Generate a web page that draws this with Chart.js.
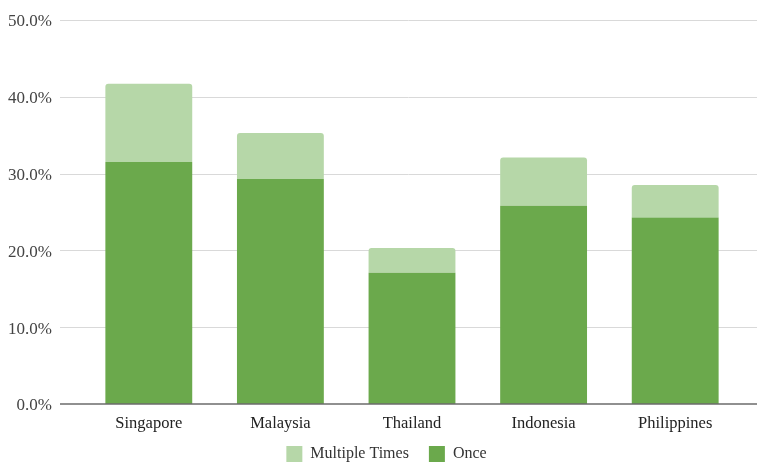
<!DOCTYPE html>
<html>
<head>
<meta charset="utf-8">
<script src="https://cdn.jsdelivr.net/npm/chart.js@4"></script>
<style>
  html, body { margin: 0; padding: 0; background: #ffffff; }
  #wrap { width: 757px; height: 462px; position: relative; }
</style>
</head>
<body>
<div id="wrap"><canvas id="c" width="757" height="462"></canvas></div>
<script>
const categories = ["Singapore", "Malaysia", "Thailand", "Indonesia", "Philippines"];
const onceValues = [31.5, 29.3, 17.1, 25.8, 24.3];
const multipleValues = [10.2, 6.0, 3.2, 6.3, 4.2];
const yTickValues = [0, 10, 20, 30, 40, 50];

const FONT = "'Liberation Serif', 'Times New Roman', serif";

const extendGrid = {
  id: 'extendGrid',
  beforeDatasetsDraw(chart) {
    const ys = chart.scales.y;
    const ctx = chart.ctx;
    const left = chart.chartArea.left - 23;
    const right = chart.width;
    ctx.save();
    ys.ticks.forEach(t => {
      if (t.value === 0) return;
      const y = Math.round(ys.getPixelForValue(t.value)) + 0.5;
      ctx.beginPath();
      ctx.strokeStyle = '#d9d9d9';
      ctx.lineWidth = 1;
      ctx.moveTo(left, y);
      ctx.lineTo(right, y);
      ctx.stroke();
    });
    ctx.restore();
  },
  afterDatasetsDraw(chart) {
    const ys = chart.scales.y;
    const ctx = chart.ctx;
    const left = chart.chartArea.left - 23;
    const y = ys.getPixelForValue(0);
    ctx.save();
    ctx.beginPath();
    ctx.strokeStyle = '#6b6b6b';
    ctx.lineWidth = 1.6;
    ctx.moveTo(left, y);
    ctx.lineTo(chart.width, y);
    ctx.stroke();
    ctx.restore();
  }
};

const legendFit = {
  id: 'legendFit',
  beforeInit(chart) {
    const lg = chart.legend;
    if (!lg) return;
    const origFit = lg.fit;
    lg.fit = function () {
      origFit.call(this);
      this.height = 28;
    };
    const origDraw = lg.draw;
    lg.draw = function () {
      this.top -= 8;
      this.left += 16;
      this.right += 16;
      origDraw.call(this);
      this.top += 8;
      this.left -= 16;
      this.right -= 16;
    };
  }
};

new Chart(document.getElementById('c'), {
  type: 'bar',
  data: {
    labels: categories,
    datasets: [
      {
        label: 'Once',
        data: onceValues,
        backgroundColor: '#6ba94c',
        borderWidth: 0,
        barPercentage: 0.66,
        categoryPercentage: 1.0
      },
      {
        label: 'Multiple Times',
        data: multipleValues,
        backgroundColor: '#b6d7a8',
        borderWidth: 0,
        borderRadius: 3,
        borderSkipped: 'bottom',
        barPercentage: 0.66,
        categoryPercentage: 1.0
      }
    ]
  },
  options: {
    responsive: false,
    animation: false,
    devicePixelRatio: 1,
    layout: { padding: { top: 20, right: 16, left: 0, bottom: 0 } },
    plugins: {
      legend: {
        position: 'bottom',
        reverse: true,
        labels: {
          boxWidth: 16,
          boxHeight: 16,
          padding: 20,
          color: '#333333',
          font: { family: FONT, size: 16 }
        }
      },
      tooltip: { enabled: false }
    },
    scales: {
      x: {
        stacked: true,
        grid: { display: false },
        border: { display: false },
        ticks: {
          color: '#222222',
          padding: 2,
          maxRotation: 0,
          font: { family: FONT, size: 16.5 }
        },
        afterFit(scale) { scale.height = 30; }
      },
      y: {
        stacked: true,
        min: 0,
        max: 50,
        afterBuildTicks(scale) { scale.ticks = yTickValues.map(v => ({ value: v })); },
        grid: { display: false, drawTicks: false },
        border: { display: false },
        ticks: {
          color: '#444444',
          padding: 31,
          labelOffset: 2,
          font: { family: FONT, size: 17 },
          callback: v => v.toFixed(1) + '%'
        },
        afterFit(scale) {
          scale.width = 83;
          scale.paddingTop = 10;
          scale.paddingBottom = 10;
        }
      }
    }
  },
  plugins: [extendGrid, legendFit]
});
</script>
</body>
</html>
